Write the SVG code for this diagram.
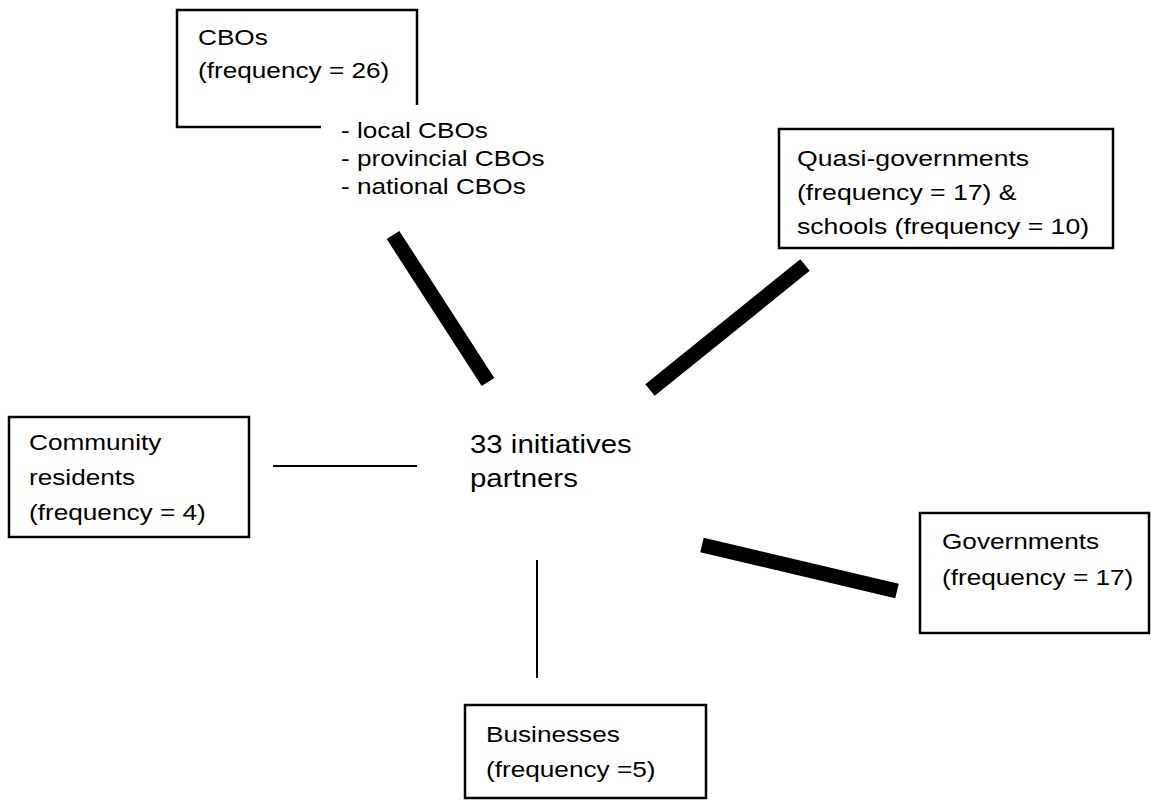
<svg xmlns="http://www.w3.org/2000/svg" width="1151" height="801" viewBox="0 0 1151 801">
<style>
.box{fill:none;stroke:#000;stroke-width:2.5}
.t{font-family:"Liberation Sans",Arial,sans-serif;font-size:22px;fill:#000}
.c{font-size:26.5px}
.thin{stroke:#000;stroke-width:2;fill:none}
.thick{stroke:#000;stroke-width:15;fill:none}
</style>
<rect width="1151" height="801" fill="#fff"/>
<g id="cbos">
<path class="box" d="M417,105 V10 H177 V127 H321"/>
<text class="t" transform="translate(198,45) scale(1.19,1)"><tspan x="0" y="0">CBOs</tspan><tspan x="0" y="33">(frequency = 26)</tspan></text>
<text class="t" transform="translate(341,138) scale(1.19,1)"><tspan x="0" y="0">- local CBOs</tspan><tspan x="0" y="28">- provincial CBOs</tspan><tspan x="0" y="56">- national CBOs</tspan></text>
</g>
<g id="quasi">
<rect class="box" x="779" y="129" width="334" height="119"/>
<text class="t" transform="translate(797,166) scale(1.21,1)"><tspan x="0" y="0">Quasi-governments</tspan><tspan x="0" y="34">(frequency = 17) &amp;</tspan><tspan x="0" y="68">schools (frequency = 10)</tspan></text>
</g>
<g id="community">
<rect class="box" x="9" y="417" width="240" height="120"/>
<text class="t" transform="translate(29,450) scale(1.19,1)"><tspan x="0" y="0">Community</tspan><tspan x="0" y="35">residents</tspan><tspan x="0" y="70">(frequency = 4)</tspan></text>
</g>
<g id="center">
<text class="t c" transform="translate(470,453) scale(1.11,1)"><tspan x="0" y="0">33 initiatives</tspan><tspan x="0" y="34">partners</tspan></text>
</g>
<g id="governments">
<rect class="box" x="920" y="513" width="229" height="120"/>
<text class="t" transform="translate(942,549) scale(1.19,1)"><tspan x="0" y="0">Governments</tspan><tspan x="0" y="36">(frequency = 17)</tspan></text>
</g>
<g id="businesses">
<rect class="box" x="465" y="705" width="241" height="93"/>
<text class="t" transform="translate(486,742) scale(1.19,1)"><tspan x="0" y="0">Businesses</tspan><tspan x="0" y="35">(frequency =5)</tspan></text>
</g>
<g id="connectors">
<line class="thick" x1="393" y1="235" x2="488" y2="382"/>
<line class="thick" x1="805" y1="265" x2="650" y2="390"/>
<line class="thin" x1="273" y1="466" x2="417" y2="466"/>
<line class="thick" x1="702" y1="545" x2="897" y2="591"/>
<line class="thin" x1="537" y1="560" x2="537" y2="678"/>
</g>
</svg>
